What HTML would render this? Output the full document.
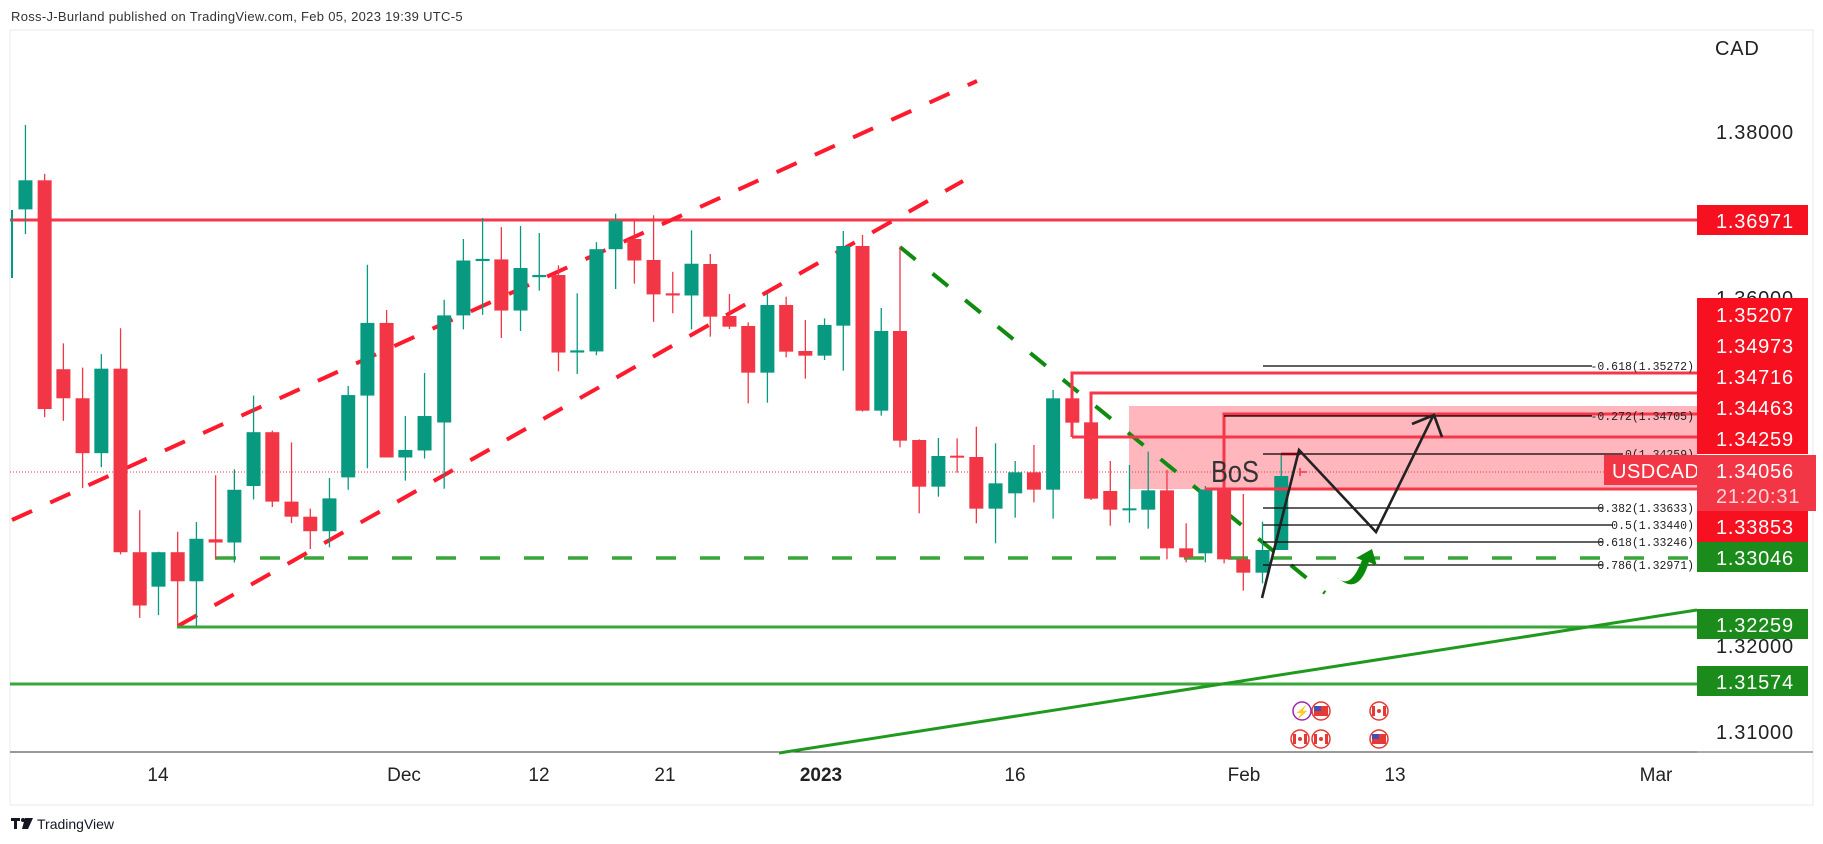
<!DOCTYPE html>
<html><head><meta charset="utf-8">
<style>
html,body{margin:0;padding:0;background:#fff;}
svg{display:block;font-family:"Liberation Sans",sans-serif;}
</style></head>
<body>
<svg id="s" width="1823" height="844" viewBox="0 0 1823 844" xmlns="http://www.w3.org/2000/svg">
<rect width="1823" height="844" fill="#fff"/>
<text x="11" y="21" font-size="13" fill="#333" letter-spacing="0.3">Ross-J-Burland published on TradingView.com, Feb 05, 2023 19:39 UTC-5</text>
<rect x="10" y="30" width="1803" height="775" fill="none" stroke="#e6e8ee" stroke-width="1"/>
<line x1="10" y1="752" x2="1697" y2="752" stroke="#333" stroke-width="1"/>
<line x1="1697" y1="752" x2="1813" y2="752" stroke="#555" stroke-width="1"/>
<!-- pink zone -->
<rect x="1129" y="406" width="568" height="83" fill="#ffb6bc"/>
<g id="back"></g>
<!-- horizontal red -->
<line x1="10" y1="220" x2="1697" y2="220" stroke="#f7364a" stroke-width="3"/>
<!-- red dashed channel -->
<line x1="12" y1="520" x2="977" y2="81" stroke="#ff1a2e" stroke-width="4" stroke-dasharray="22 20"/>
<line x1="178" y1="626" x2="963" y2="181" stroke="#ff1a2e" stroke-width="4" stroke-dasharray="22 20"/>
<!-- dotted current price -->
<line x1="10" y1="472" x2="1697" y2="472" stroke="#f23645" stroke-width="1" stroke-dasharray="1 2"/>
<!-- green horizontals -->
<line x1="216" y1="558" x2="1697" y2="558" stroke="#3aa53a" stroke-width="3.5" stroke-dasharray="20 24"/>
<line x1="177" y1="627" x2="1697" y2="627" stroke="#3aa53a" stroke-width="3"/>
<line x1="10" y1="684" x2="1697" y2="684" stroke="#3aa53a" stroke-width="3"/>
<line x1="779" y1="753" x2="1697" y2="610" stroke="#1f9a1f" stroke-width="3"/>
<!-- green dashed descending -->
<line x1="900" y1="247" x2="1325" y2="593" stroke="#0f8c0f" stroke-width="4" stroke-dasharray="20 22"/>
<g id="candles"></g>
<!-- red level lines -->
<g stroke="#f7364a" stroke-width="3" fill="none">
<polyline points="1072,437 1072,373 1697,373"/>
<polyline points="1091,423 1091,393 1697,393"/>
<polyline points="1224,489 1224,414 1697,414"/>
<line x1="1072" y1="437" x2="1697" y2="437"/>
<line x1="1205" y1="489" x2="1697" y2="489"/>
<line x1="1281" y1="454" x2="1300" y2="454"/>
</g>
<line x1="1300" y1="472" x2="1307" y2="472" stroke="#f23645" stroke-width="1.5"/>
<line x1="1300" y1="468" x2="1300" y2="476" stroke="#f23645" stroke-width="1.5"/>
<!-- fib lines -->
<g stroke="#000" stroke-width="1.2">
<line x1="1263" y1="366" x2="1592" y2="366"/>
<line x1="1224" y1="416" x2="1592" y2="416"/>
<line x1="1263" y1="454" x2="1623" y2="454"/>
<line x1="1263" y1="508" x2="1603" y2="508"/>
<line x1="1263" y1="525" x2="1613" y2="525"/>
<line x1="1263" y1="542" x2="1603" y2="542"/>
<line x1="1263" y1="565" x2="1603" y2="565"/>
</g>
<g font-family="'Liberation Mono',monospace" font-size="11.5" fill="#222" text-anchor="end">
<text x="1694" y="370">-0.618(1.35272)</text>
<text x="1694" y="420">-0.272(1.34705)</text>
<text x="1694" y="458">0(1.34259)</text>
<text x="1694" y="512">0.382(1.33633)</text>
<text x="1694" y="529">0.5(1.33440)</text>
<text x="1694" y="546">0.618(1.33246)</text>
<text x="1694" y="569">0.786(1.32971)</text>
</g>
<text x="1211" y="482" font-size="31" fill="#333" textLength="48" lengthAdjust="spacingAndGlyphs">BoS</text>
<!-- black arrows -->
<polyline points="1262,598 1299,450 1376,532 1433,416" fill="none" stroke="#222" stroke-width="2.6" stroke-linejoin="miter"/>
<polyline points="1412,424 1434,415 1442,437" fill="none" stroke="#222" stroke-width="2.6"/>
<!-- green curved arrow -->
<path d="M1336,576 Q1350,592 1362,560 L1356,558 L1372,549 L1377,566 L1369,562 Q1358,598 1336,576 Z" fill="#0a8a0a"/>
<!-- event icons -->
<g stroke-width="1.5">
<circle cx="1302" cy="711" r="9" fill="#fff" stroke="#9c27b0"/>
<text x="1302" y="716" font-size="12" fill="#9c27b0" text-anchor="middle">⚡</text>
<circle cx="1321" cy="711" r="9" fill="#fff" stroke="#e53935"/>
<rect x="1314" y="706" width="14" height="10" fill="#e53935"/><rect x="1314" y="706" width="7" height="5" fill="#3f51b5"/>
<circle cx="1300" cy="739" r="9" fill="#fff" stroke="#e53935"/>
<rect x="1293" y="734" width="3" height="10" fill="#e53935"/><rect x="1304" y="734" width="3" height="10" fill="#e53935"/><circle cx="1300" cy="739" r="2" fill="#e53935"/>
<circle cx="1321" cy="739" r="9" fill="#fff" stroke="#e53935"/>
<rect x="1314" y="734" width="3" height="10" fill="#e53935"/><rect x="1325" y="734" width="3" height="10" fill="#e53935"/><circle cx="1321" cy="739" r="2" fill="#e53935"/>
<circle cx="1379" cy="711" r="9" fill="#fff" stroke="#e53935"/>
<rect x="1372" y="706" width="3" height="10" fill="#e53935"/><rect x="1383" y="706" width="3" height="10" fill="#e53935"/><circle cx="1379" cy="711" r="2" fill="#e53935"/>
<circle cx="1379" cy="739" r="9" fill="#fff" stroke="#e53935"/>
<rect x="1372" y="734" width="14" height="10" fill="#e53935"/><rect x="1372" y="734" width="7" height="5" fill="#3f51b5"/>
</g>
<!-- price axis -->
<g font-size="20" fill="#222" letter-spacing="0.8">
<text x="1715" y="55">CAD</text>
<text x="1716" y="139">1.38000</text>
<text x="1716" y="305">1.36000</text>
<text x="1716" y="653">1.32000</text>
<text x="1716" y="739">1.31000</text>
</g>
<g font-size="20" fill="#fff" letter-spacing="0.8">
<rect x="1697" y="205" width="111" height="30" fill="#f7101f"/><text x="1716" y="228">1.36971</text>
<rect x="1697" y="298" width="111" height="156" fill="#f7101f"/>
<text x="1716" y="322">1.35207</text>
<text x="1716" y="353">1.34973</text>
<text x="1716" y="384">1.34716</text>
<text x="1716" y="415">1.34463</text>
<text x="1716" y="446">1.34259</text>
<rect x="1604" y="455" width="93" height="30" fill="#f23645"/>
<text x="1612" y="478" letter-spacing="0.5">USDCAD</text>
<rect x="1697" y="455" width="119" height="56" fill="#f23645"/>
<text x="1716" y="478">1.34056</text>
<text x="1716" y="503" fill="#ffd6da">21:20:31</text>
<rect x="1697" y="511" width="111" height="31" fill="#f7101f"/><text x="1716" y="534">1.33853</text>
<rect x="1697" y="542" width="111" height="30" fill="#1b8c1b"/><text x="1716" y="565">1.33046</text>
<rect x="1697" y="609" width="111" height="30" fill="#1b8c1b"/><text x="1716" y="632">1.32259</text>
<rect x="1697" y="666" width="111" height="30" fill="#1b8c1b"/><text x="1716" y="689">1.31574</text>
</g>
<!-- time axis -->
<g font-size="19" fill="#222" text-anchor="middle">
<text x="158" y="781">14</text>
<text x="404" y="781">Dec</text>
<text x="539" y="781">12</text>
<text x="665" y="781">21</text>
<text x="821" y="781" font-weight="bold">2023</text>
<text x="1015" y="781">16</text>
<text x="1244" y="781">Feb</text>
<text x="1395" y="781">13</text>
<text x="1656" y="781">Mar</text>
</g>
<!-- footer -->
<g fill="#131722">
<rect x="11" y="818" width="9" height="3"/><rect x="14" y="818" width="3" height="11"/>
<circle cx="23" cy="820" r="2"/><polygon points="25,818 33,818 28,829 22,829"/>
</g>
<text x="37" y="829" font-size="14" fill="#131722">TradingView</text>
<script>
(function(){
var NS="http://www.w3.org/2000/svg",g=document.getElementById('candles');
var z2=[[57,335,389,232,435,'g'],[100,335,760,323,775,'r'],[142,686,740,638,782,'r'],[185,740,842,683,907,'r'],[227,685,842,658,868,'g'],[270,685,1026,610,1030,'r'],[313,1026,1125,948,1148,'r'],[355,1026,1090,1025,1143,'g'],[398,1026,1080,988,1163,'r'],[440,1001,1080,970,1163,'g'],[483,1002,1008,883,1040,'r'],[525,910,1008,872,1045,'g'],[568,803,903,735,928,'g'],[610,803,932,800,942,'r'],[653,932,960,822,972,'r'],[695,960,987,945,1020,'r'],[738,926,987,888,1017,'g'],[780,734,887,717,910,'g'],[823,600,735,492,870,'g'],[866,600,850,576,850,'r'],[908,836,850,773,893,'g'],[951,773,837,693,852,'g'],[995,586,785,557,908,'g'],[1038,484,586,444,612,'g'],[1081,481,485,405,585,'g'],[1123,482,577,422,628,'r'],[1166,498,577,420,615,'g'],[1208,511,515,433,540,'g'],[1251,511,655,493,690,'r'],[1293,651,655,545,695,'g'],[1336,463,653,450,660,'g'],[1379,410,463,397,537,'g'],[1421,444,484,410,527,'r'],[1464,483,547,400,598,'r'],[1507,545,549,505,582,'r'],[1549,490,549,428,612,'g']];
var z3=[[247,342,500,312,560,'r'],[290,498,530,432,537,'r'],[332,528,668,517,760,'r'],[375,465,668,430,758,'g'],[417,465,605,440,622,'r'],[460,603,617,510,686,'r'],[503,525,617,505,630,'g'],[545,288,527,243,662,'g'],[588,288,782,255,785,'r'],[630,543,782,474,797,'g'],[672,543,872,290,892,'r'],[715,870,1010,868,1090,'r'],[758,918,1010,864,1040,'g'],[800,918,922,865,968,'r'],[843,921,1076,830,1120,'r'],[886,1000,1076,880,1180,'g'],[930,967,1030,933,1103,'g'],[972,967,1019,885,1057,'r'],[1015,745,1019,720,1106,'g'],[1058,745,818,700,818,'r'],[1100,817,1046,725,1050,'r'],[1143,1023,1079,933,1127,'r'],[1186,1076,1080,945,1118,'g'],[1228,1021,1079,905,1136,'g'],[1270,1021,1195,960,1228,'r'],[1313,1195,1222,1120,1237,'r'],[1356,1018,1210,1008,1237,'g'],[1398,1018,1228,1018,1240,'r'],[1441,1228,1268,1032,1322,'r'],[1484,1200,1268,1115,1300,'g'],[1526,978,1200,912,1200,'g']];
var all=[];
z2.forEach(function(c){all.push([c[0]/2.24,c[1]/1.858,c[2]/1.858,c[3]/1.858,c[4]/1.858,c[5]]);});
z3.forEach(function(c){all.push([600+c[0]/2.24,150+c[1]/3,150+c[2]/3,150+c[3]/3,150+c[4]/3,c[5]]);});
function el(n,a){var e=document.createElementNS(NS,n);for(var k in a)e.setAttribute(k,a[k]);g.appendChild(e);}
el('rect',{x:11,y:210,width:2,height:68,fill:'#089981'});
all.forEach(function(c){
 var col=c[5]=='g'?'#089981':'#f23645';var x=c[0];
 var t=Math.min(c[1],c[2]),b=Math.max(c[1],c[2]);if(b-t<2){var m=(t+b)/2;t=m-1;b=m+1;}
 el('line',{x1:x,y1:c[3],x2:x,y2:c[4],stroke:col,'stroke-width':1.3});
 el('rect',{x:x-7,y:t,width:14,height:b-t,fill:col});
});
})();
</script>
</svg>
</body></html>
